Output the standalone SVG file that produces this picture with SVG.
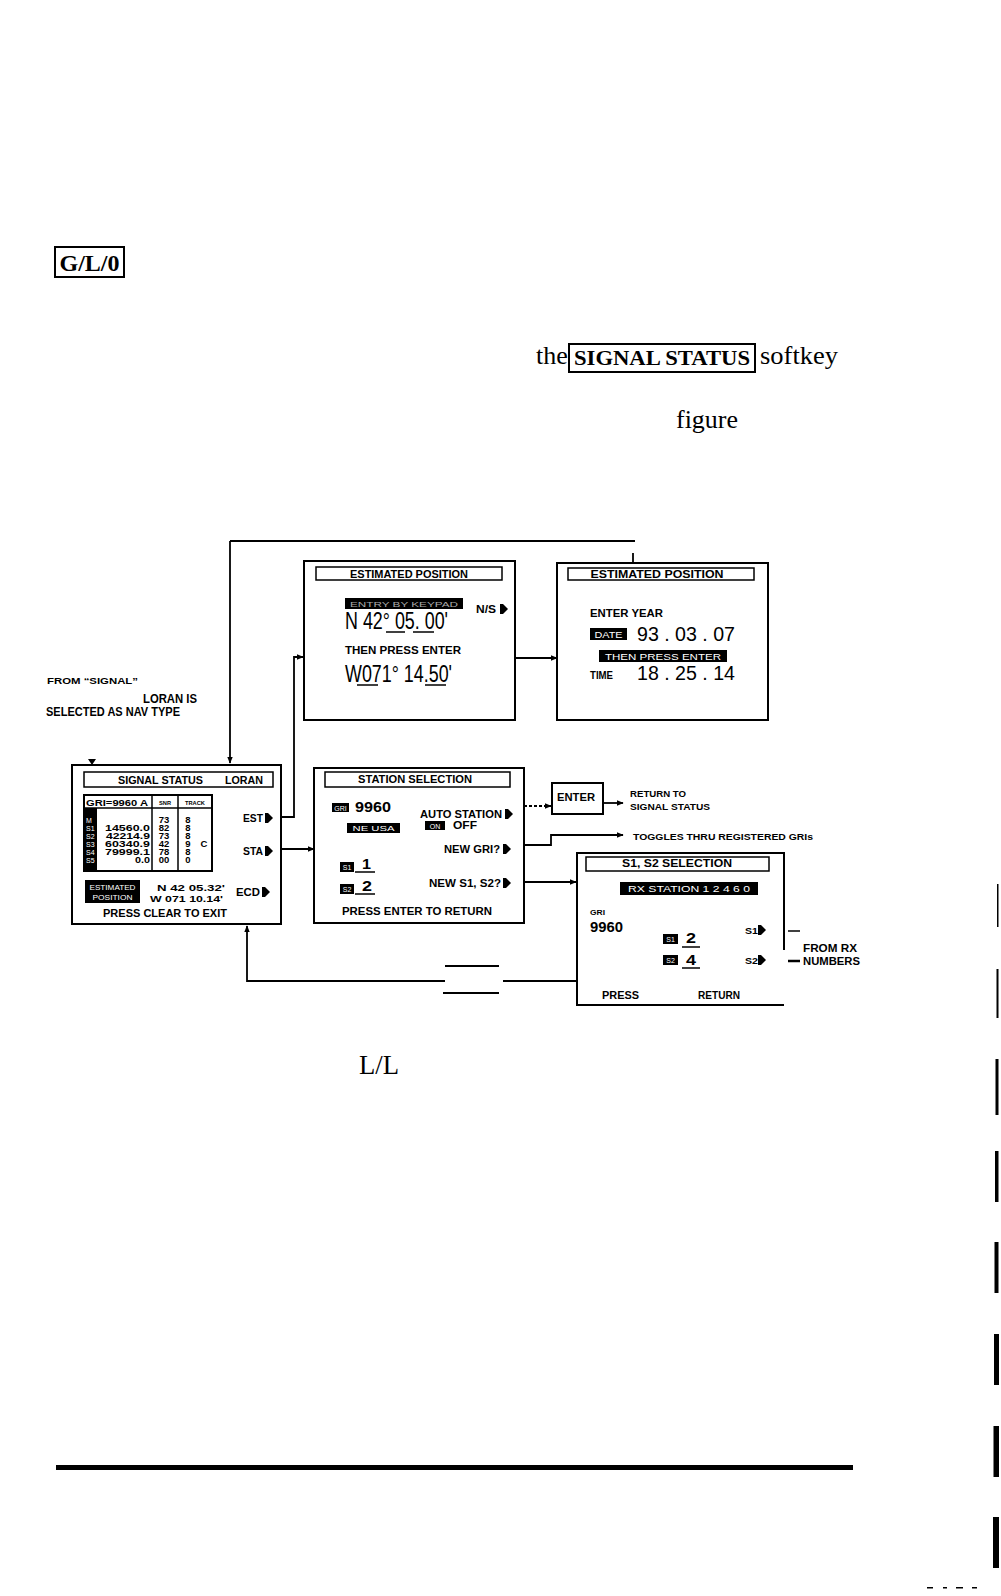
<svg xmlns="http://www.w3.org/2000/svg" width="1001" height="1596" viewBox="0 0 1001 1596">
<defs>
<style>
text{font-family:"Liberation Sans",Arial,sans-serif;font-weight:bold;fill:#000}
.sf{font-family:"Liberation Serif","Times New Roman",serif;font-weight:normal}
.sfb{font-family:"Liberation Serif","Times New Roman",serif;font-weight:bold}
.dg{font-family:"Liberation Sans Narrow","Liberation Sans",sans-serif;font-weight:normal}
.w{fill:#fff;font-weight:normal}
.g{fill:#aaa;font-weight:normal}
.box{fill:#fff;stroke:#000;stroke-width:2}
.bar{fill:#fff;stroke:#000;stroke-width:1.5}
.ln{fill:none;stroke:#000;stroke-width:1.8}
.ul{stroke:#000;stroke-width:1.5}
</style>
<marker id="ah" viewBox="0 0 10 10" refX="9" refY="5" markerWidth="7" markerHeight="7" markerUnits="userSpaceOnUse" orient="auto">
<path d="M0,1 L10,5 L0,9 Z" fill="#000"/>
</marker>
<path id="sk" d="M0,-5 L3,-5 L8,0 L3,5 L0,5 Z" fill="#000"/>
</defs>
<rect width="1001" height="1596" fill="#fff"/>

<g id="page-text">
<rect x="55" y="247" width="69" height="30" fill="none" stroke="#000" stroke-width="2"/>
<text class="sfb" x="89.5" y="271" font-size="24" text-anchor="middle" textLength="60" lengthAdjust="spacingAndGlyphs">G/L/0</text>
<text class="sf" x="536" y="364" font-size="26">the</text>
<rect x="569" y="344" width="186" height="28" fill="none" stroke="#000" stroke-width="2"/>
<text class="sfb" x="662" y="365" font-size="22" text-anchor="middle" textLength="176" lengthAdjust="spacingAndGlyphs">SIGNAL STATUS</text>
<text class="sf" x="760" y="364" font-size="26" textLength="78" lengthAdjust="spacingAndGlyphs">softkey</text>
<text class="sf" x="676" y="428" font-size="26" textLength="62" lengthAdjust="spacingAndGlyphs">figure</text>
<text class="sf" x="359" y="1074" font-size="27" textLength="40" lengthAdjust="spacingAndGlyphs">L/L</text>
<rect x="56" y="1465" width="797" height="5" fill="#000"/>
</g>

<g id="margin-marks" fill="#000">
<rect x="997" y="884" width="1.5" height="43"/>
<rect x="996.5" y="969" width="2" height="49"/>
<rect x="995.5" y="1059" width="3" height="56"/>
<rect x="995" y="1151" width="3.5" height="51"/>
<rect x="994.5" y="1242" width="4" height="51"/>
<rect x="994" y="1334" width="5" height="51"/>
<rect x="993.5" y="1426" width="5.5" height="51"/>
<rect x="993" y="1517" width="6" height="51"/>
<rect x="927" y="1587" width="6" height="1.5"/>
<rect x="943" y="1587" width="4" height="1.5"/>
<rect x="956" y="1587" width="7" height="1.5"/>
<rect x="972" y="1587" width="5" height="1.5"/>
</g>

<g id="connectors">
<path class="ln" d="M230,541 H635"/>
<path class="ln" d="M230,541 V763" marker-end="url(#ah)"/>
<path class="ln" d="M633,553 V566"/>
<path d="M88,759 L96,759 L92,765 Z" fill="#000"/>
<path class="ln" d="M281,817 H294 V657 H303" marker-end="url(#ah)"/>
<path class="ln" d="M515,658 H557" marker-end="url(#ah)"/>
<path class="ln" d="M281,849 H314" marker-end="url(#ah)"/>
<path class="ln" d="M524,806 H551" stroke-dasharray="3,2" marker-end="url(#ah)"/>
<path class="ln" d="M603,803 H623" marker-end="url(#ah)"/>
<path class="ln" d="M524,845 H551 V835 H623" marker-end="url(#ah)"/>
<path class="ln" d="M524,882 H576" marker-end="url(#ah)"/>
<path class="ln" d="M577,981 H503"/>
<path class="ln" d="M445,981 H247 V926" stroke-width="2.5" marker-end="url(#ah)"/>
<path class="ln" d="M445,966 H499" stroke-width="3"/>
<path class="ln" d="M443,993 H499" stroke-width="1"/>
</g>

<g id="label-from-signal">
<text x="47" y="684" font-size="9" textLength="91" lengthAdjust="spacingAndGlyphs">FROM “SIGNAL”</text>
<text x="143" y="703" font-size="12" textLength="54" lengthAdjust="spacingAndGlyphs">LORAN  IS</text>
<text x="46" y="716" font-size="12" textLength="134" lengthAdjust="spacingAndGlyphs">SELECTED AS NAV TYPE</text>
</g>

<g id="est-pos-1">
<rect class="box" x="304" y="561" width="211" height="159"/>
<rect class="bar" x="316" y="567" width="186" height="13"/>
<text x="409" y="578" font-size="11" text-anchor="middle" textLength="118" lengthAdjust="spacingAndGlyphs">ESTIMATED POSITION</text>
<rect x="345" y="598" width="118" height="11" fill="#000"/>
<text class="g" x="404" y="607" font-size="8" text-anchor="middle" textLength="108" lengthAdjust="spacingAndGlyphs">ENTRY BY KEYPAD</text>
<text x="476" y="613" font-size="10" textLength="20" lengthAdjust="spacingAndGlyphs">N/S</text>
<use href="#sk" x="500" y="609"/>
<text class="dg" x="345" y="629" font-size="23" textLength="103" lengthAdjust="spacingAndGlyphs">N 42° 05. 00'</text>
<line class="ul" x1="386" y1="632" x2="405" y2="632"/>
<line class="ul" x1="413" y1="632" x2="434" y2="632"/>
<text x="345" y="654" font-size="11" textLength="116" lengthAdjust="spacingAndGlyphs">THEN PRESS ENTER</text>
<text class="dg" x="345" y="682" font-size="23" textLength="107" lengthAdjust="spacingAndGlyphs">W071° 14.50'</text>
<line class="ul" x1="357" y1="685" x2="378" y2="685"/>
<line class="ul" x1="425" y1="685" x2="446" y2="685"/>
</g>

<g id="est-pos-2">
<rect class="box" x="557" y="563" width="211" height="157"/>
<rect class="bar" x="568" y="568" width="186" height="12"/>
<text x="657" y="578" font-size="11" text-anchor="middle" textLength="133" lengthAdjust="spacingAndGlyphs">ESTIMATED POSITION</text>
<text x="590" y="617" font-size="11" textLength="73" lengthAdjust="spacingAndGlyphs">ENTER YEAR</text>
<rect x="590" y="628" width="37" height="12" fill="#000"/>
<text class="w" x="608.5" y="638" font-size="9" text-anchor="middle" textLength="28" lengthAdjust="spacingAndGlyphs">DATE</text>
<text class="dg" x="637" y="641" font-size="20" textLength="98" lengthAdjust="spacingAndGlyphs">93 . 03 . 07</text>
<rect x="599" y="650" width="128" height="12" fill="#000"/>
<text class="w" x="663" y="660" font-size="9" text-anchor="middle" textLength="116" lengthAdjust="spacingAndGlyphs">THEN PRESS ENTER</text>
<text x="590" y="679" font-size="10" textLength="23" lengthAdjust="spacingAndGlyphs">TIME</text>
<text class="dg" x="637" y="680" font-size="20" textLength="98" lengthAdjust="spacingAndGlyphs">18 . 25 . 14</text>
</g>

<g id="signal-status">
<rect class="box" x="72" y="765" width="209" height="159"/>
<rect class="bar" x="84" y="772" width="189" height="15"/>
<text x="118" y="784" font-size="11" textLength="85" lengthAdjust="spacingAndGlyphs">SIGNAL STATUS</text>
<text x="225" y="784" font-size="11" textLength="38" lengthAdjust="spacingAndGlyphs">LORAN</text>
<rect x="84" y="795" width="128" height="76" fill="none" stroke="#000" stroke-width="2"/>
<line x1="84" y1="808" x2="212" y2="808" stroke="#000" stroke-width="1.5"/>
<line x1="152" y1="795" x2="152" y2="871" stroke="#000" stroke-width="1.5"/>
<line x1="178" y1="795" x2="178" y2="871" stroke="#000" stroke-width="1.5"/>
<text x="86" y="806" font-size="9.5" textLength="62" lengthAdjust="spacingAndGlyphs">GRI=9960 A</text>
<text x="165" y="805" font-size="5" text-anchor="middle" textLength="12" lengthAdjust="spacingAndGlyphs">SNR</text>
<text x="195" y="805" font-size="5" text-anchor="middle" textLength="20" lengthAdjust="spacingAndGlyphs">TRACK</text>
<rect x="84" y="808" width="13" height="63" fill="#000"/>
<g font-size="7">
<text class="w" x="86" y="823">M</text>
<text class="w" x="86" y="831">S1</text>
<text class="w" x="86" y="839">S2</text>
<text class="w" x="86" y="847">S3</text>
<text class="w" x="86" y="855">S4</text>
<text class="w" x="86" y="863">S5</text>
</g>
<g font-size="9.5" text-anchor="end">
<text x="150" y="831" textLength="45" lengthAdjust="spacingAndGlyphs">14560.0</text>
<text x="150" y="839" textLength="44" lengthAdjust="spacingAndGlyphs">42214.9</text>
<text x="150" y="847" textLength="45" lengthAdjust="spacingAndGlyphs">60340.9</text>
<text x="150" y="855" textLength="45" lengthAdjust="spacingAndGlyphs">79999.1</text>
<text x="150" y="863" textLength="15" lengthAdjust="spacingAndGlyphs">0.0</text>
</g>
<g font-size="9.5" text-anchor="middle">
<text x="164" y="823">73</text>
<text x="164" y="831">82</text>
<text x="164" y="839">73</text>
<text x="164" y="847">42</text>
<text x="164" y="855">78</text>
<text x="164" y="863">00</text>
<text x="188" y="823">8</text>
<text x="188" y="831">8</text>
<text x="188" y="839">8</text>
<text x="188" y="847">9</text>
<text x="188" y="855">8</text>
<text x="188" y="863">0</text>
<text x="204" y="847">C</text>
</g>
<text x="243" y="822" font-size="10" textLength="20" lengthAdjust="spacingAndGlyphs">EST</text>
<use href="#sk" x="265" y="818"/>
<text x="243" y="855" font-size="10" textLength="20" lengthAdjust="spacingAndGlyphs">STA</text>
<use href="#sk" x="265" y="851"/>
<text x="236" y="896" font-size="10" textLength="24" lengthAdjust="spacingAndGlyphs">ECD</text>
<use href="#sk" x="262" y="892"/>
<rect x="85" y="880" width="55" height="23" fill="#000"/>
<text class="w" x="112.5" y="890" font-size="7" text-anchor="middle" textLength="46" lengthAdjust="spacingAndGlyphs">ESTIMATED</text>
<text class="w" x="112.5" y="900" font-size="7" text-anchor="middle" textLength="40" lengthAdjust="spacingAndGlyphs">POSITION</text>
<text x="157" y="891" font-size="9" textLength="68" lengthAdjust="spacingAndGlyphs">N 42  05.32'</text>
<text x="150" y="902" font-size="9" textLength="73" lengthAdjust="spacingAndGlyphs">W 071 10.14'</text>
<text x="103" y="917" font-size="10" textLength="124" lengthAdjust="spacingAndGlyphs">PRESS CLEAR TO EXIT</text>
</g>

<g id="station-selection">
<rect class="box" x="314" y="768" width="210" height="155"/>
<rect class="bar" x="325" y="772" width="185" height="15"/>
<text x="358" y="783" font-size="11" textLength="114" lengthAdjust="spacingAndGlyphs">STATION SELECTION</text>
<rect x="332" y="803" width="17" height="9" fill="#000"/>
<text class="w" x="340.5" y="810.5" font-size="7" text-anchor="middle">GRI</text>
<text x="355" y="812" font-size="14" textLength="36" lengthAdjust="spacingAndGlyphs">9960</text>
<rect x="347" y="823" width="53" height="10" fill="#000"/>
<text class="w" x="373.5" y="831" font-size="8" text-anchor="middle" textLength="42" lengthAdjust="spacingAndGlyphs">NE USA</text>
<text x="420" y="818" font-size="10" textLength="82" lengthAdjust="spacingAndGlyphs">AUTO STATION</text>
<use href="#sk" x="505" y="814"/>
<rect x="425" y="821" width="20" height="9" fill="#000"/>
<text class="w" x="435" y="828.5" font-size="7" text-anchor="middle">ON</text>
<text x="453" y="829" font-size="10" textLength="24" lengthAdjust="spacingAndGlyphs">OFF</text>
<text x="444" y="853" font-size="10" textLength="56" lengthAdjust="spacingAndGlyphs">NEW GRI?</text>
<use href="#sk" x="503" y="849"/>
<rect x="340" y="862" width="14" height="10" fill="#000"/>
<text class="w" x="347" y="870" font-size="7" text-anchor="middle">S1</text>
<text x="362" y="869" font-size="14" textLength="9" lengthAdjust="spacingAndGlyphs">1</text>
<line class="ul" x1="355" y1="872" x2="375" y2="872"/>
<rect x="340" y="884" width="14" height="10" fill="#000"/>
<text class="w" x="347" y="892" font-size="7" text-anchor="middle">S2</text>
<text x="362" y="891" font-size="14" textLength="10" lengthAdjust="spacingAndGlyphs">2</text>
<line class="ul" x1="355" y1="894" x2="375" y2="894"/>
<text x="429" y="887" font-size="10" textLength="72" lengthAdjust="spacingAndGlyphs">NEW S1, S2?</text>
<use href="#sk" x="503" y="883"/>
<text x="342" y="915" font-size="10" textLength="150" lengthAdjust="spacingAndGlyphs">PRESS ENTER TO RETURN</text>
</g>

<g id="enter-key">
<rect x="552" y="783" width="51" height="31" fill="#fff" stroke="#000" stroke-width="2"/>
<text x="557" y="801" font-size="10" textLength="38" lengthAdjust="spacingAndGlyphs">ENTER</text>
</g>

<g id="return-label">
<text x="630" y="797" font-size="9" textLength="56" lengthAdjust="spacingAndGlyphs">RETURN TO</text>
<text x="630" y="810" font-size="9" textLength="80" lengthAdjust="spacingAndGlyphs">SIGNAL STATUS</text>
</g>

<g id="toggles-label">
<text x="633" y="840" font-size="9" textLength="180" lengthAdjust="spacingAndGlyphs">TOGGLES THRU REGISTERED GRIs</text>
</g>

<g id="s1s2-selection">
<path d="M784,950 V853 H577 V1005 H784" fill="#fff" stroke="#000" stroke-width="2"/>
<rect class="bar" x="586" y="857" width="183" height="14"/>
<text x="622" y="867" font-size="11" textLength="110" lengthAdjust="spacingAndGlyphs">S1, S2  SELECTION</text>
<rect x="620" y="882" width="138" height="13" fill="#000"/>
<text class="w" x="689" y="892" font-size="9" text-anchor="middle" textLength="122" lengthAdjust="spacingAndGlyphs">RX STATION    1 2 4 6 0</text>
<text x="590" y="915" font-size="8" textLength="15" lengthAdjust="spacingAndGlyphs">GRI</text>
<text x="590" y="932" font-size="14" textLength="33" lengthAdjust="spacingAndGlyphs">9960</text>
<rect x="663" y="934" width="15" height="10" fill="#000"/>
<text class="w" x="670.5" y="942" font-size="7" text-anchor="middle">S1</text>
<text x="686" y="943" font-size="15" textLength="10" lengthAdjust="spacingAndGlyphs">2</text>
<line class="ul" x1="682" y1="947" x2="700" y2="947"/>
<rect x="663" y="955" width="15" height="10" fill="#000"/>
<text class="w" x="670.5" y="963" font-size="7" text-anchor="middle">S2</text>
<text x="686" y="965" font-size="15" textLength="10" lengthAdjust="spacingAndGlyphs">4</text>
<line class="ul" x1="682" y1="968" x2="700" y2="968"/>
<text x="745" y="934" font-size="9" textLength="13" lengthAdjust="spacingAndGlyphs">S1</text>
<use href="#sk" x="758" y="930"/>
<text x="745" y="964" font-size="9" textLength="13" lengthAdjust="spacingAndGlyphs">S2</text>
<use href="#sk" x="758" y="960"/>
<text x="602" y="999" font-size="11" textLength="37" lengthAdjust="spacingAndGlyphs">PRESS</text>
<text x="698" y="999" font-size="11" textLength="42" lengthAdjust="spacingAndGlyphs">RETURN</text>
</g>

<g id="from-rx-label">
<line x1="788" y1="931" x2="800" y2="931" stroke="#000" stroke-width="1.5"/>
<line x1="788" y1="961" x2="800" y2="961" stroke="#000" stroke-width="2.5"/>
<text x="803" y="952" font-size="11" textLength="54" lengthAdjust="spacingAndGlyphs">FROM RX</text>
<text x="803" y="965" font-size="10" textLength="57" lengthAdjust="spacingAndGlyphs">NUMBERS</text>
</g>
</svg>
